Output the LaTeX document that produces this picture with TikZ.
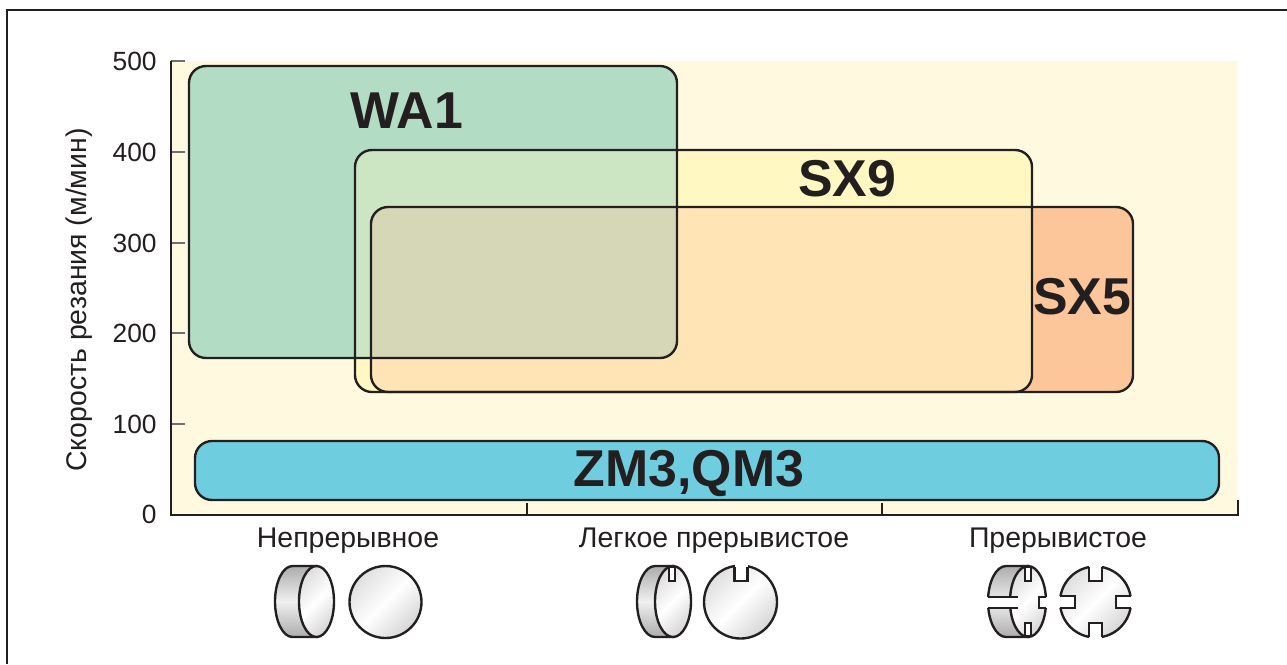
\documentclass[tikz,border=0pt]{standalone}
\usepackage{fontspec}
\setmainfont{Liberation Sans}
\usepackage{tikz}
\usetikzlibrary{calc,backgrounds}
\definecolor{bgcolor}{RGB}{255,250,223}
\definecolor{wacolor}{RGB}{178,220,195}
\definecolor{sxninecolor}{RGB}{255,248,194}
\definecolor{sxfivecolor}{RGB}{252,198,154}
\definecolor{wasxcolor}{RGB}{204,229,195}
\definecolor{allcolor}{RGB}{213,215,183}
\definecolor{sxsxcolor}{RGB}{255,229,182}
\definecolor{zmcolor}{RGB}{111,205,224}
\definecolor{linecolor}{RGB}{35,31,32}
\definecolor{tickcolor}{RGB}{110,110,112}
\newcommand{\linew}{1.35pt}
\newcommand{\boxradius}{0.34cm}
\newcommand{\tickfont}{\fontsize{15}{18}\selectfont}
\newcommand{\catfont}{\fontsize{16.2}{19}\selectfont}
\newcommand{\boxfont}{\fontsize{29.5}{34}\selectfont\bfseries}

\begin{document}
\begin{tikzpicture}[x=0.02cm,y=-0.02cm,
  tick/.style={draw=tickcolor,line width=\linew},
  ticklabel/.style={anchor=east,inner sep=0pt,font=\tickfont,text=linecolor},
  catlabel/.style={inner sep=0pt,font=\catfont,text=linecolor},
  boxlabel/.style={inner sep=0pt,font=\boxfont,text=linecolor},
  outline/.style={draw=linecolor,line width=\linew,rounded corners=\boxradius},
  side/.style={draw=linecolor,line width=\linew,top color=gray!65,bottom color=gray!65,middle color=gray!12},
  face/.style={left color=gray!25,right color=gray!32,middle color=white,shading angle=45}]
\useasboundingbox (0,0) rectangle (1287,664);
%frame
\draw[linecolor,line width=\linew] (7,664) -- (7,10) -- (1287,10);
\begin{scope}[on background layer]
\fill[bgcolor] (171,61) rectangle (1238,515);
\end{scope}
%SX5 and SX9
\fill[sxfivecolor,rounded corners=\boxradius] (371,207) rectangle (1133,392);
\fill[sxninecolor,rounded corners=\boxradius] (355,150) rectangle (1032,392);
\begin{scope}
\clip[rounded corners=\boxradius] (371,207) rectangle (1133,392);
\fill[sxsxcolor,rounded corners=\boxradius] (355,150) rectangle (1032,392);
\end{scope}
%WA1
\fill[wacolor,rounded corners=\boxradius] (189,66) rectangle (677,358);
\begin{scope}
\clip[rounded corners=\boxradius] (189,66) rectangle (677,358);
\fill[wasxcolor,rounded corners=\boxradius] (355,150) rectangle (1032,392);
\fill[allcolor,rounded corners=\boxradius] (371,207) rectangle (1133,392);
\end{scope}
\draw[outline] (371,207) rectangle (1133,392);
\draw[outline] (355,150) rectangle (1032,392);
\draw[outline] (189,66) rectangle (677,358);
%ZM3
\draw[outline,fill=zmcolor] (195,441) rectangle (1219,500);
\node[boxlabel] (wa) at (407,111) {WA1};
\node[boxlabel] (sxnine) at (847,179) {SX9};
\node[boxlabel] (sxfive) at (1082,297) {SX5};
\node[boxlabel] (zm) at (689,473) {ZM3,QM3};
%axes
\draw[tick] (171,61) -- (185,61);
\draw[tick] (171,152) -- (185,152);
\draw[tick] (171,243) -- (185,243);
\draw[tick] (171,333) -- (185,333);
\draw[tick] (171,424) -- (185,424);
\draw[linecolor,line width=\linew] (171,61) -- (171,515) -- (1238,515) -- (1238,500);
\draw[linecolor,line width=0.6pt] (527,515) -- (527,503);
\draw[linecolor,line width=0.6pt] (882,515) -- (882,503);
\node[ticklabel] (t500) at (157,61) {500};
\node[ticklabel] (t400) at (157,152) {400};
\node[ticklabel] (t300) at (157,243) {300};
\node[ticklabel] (t200) at (157,333) {200};
\node[ticklabel] (t100) at (157,424) {100};
\node[ticklabel] (t0) at (157,514) {0};
\node[catlabel,rotate=90] (ylab) at (79,300) {Скорость резания (м/мин)};
\node[catlabel] (cont) at (348,541) {Непрерывное};
\node[catlabel] (light) at (714,541) {Легкое прерывистое};
\node[catlabel] (inter) at (1058,541) {Прерывистое};
%continuous
\draw[side] (316.5,566) -- (292.5,566) arc[start angle=270,end angle=90,x radius=17.5,y radius=35.5] -- (316.5,637) -- cycle;
\draw[linecolor,line width=\linew,face] (316.5,601.5) ellipse (17.5 and 35.5);
\draw[linecolor,line width=\linew,face] (385.5,602) circle (36);
%light interrupted
\draw[side] (673,566) -- (655,566) arc[start angle=270,end angle=90,x radius=18,y radius=35.5] -- (673,637) -- cycle;
\draw[linecolor,line width=\linew,face] (673,601.5) ellipse (18 and 35.5);
\draw[linecolor,line width=\linew,fill=white] (669,567) rectangle (675,581);
\draw[linecolor,line width=\linew,face] (740.5,602) circle (36.5);
\fill[white] (734.5,564) rectangle (747.5,581);
\draw[linecolor,line width=\linew] (734.5,567) -- (734.5,581) -- (747.5,581) -- (747.5,567);
%interrupted
\draw[side] (1028,566) -- (1006,566) arc[start angle=270,end angle=90,x radius=18,y radius=35.5] -- (1028,637) -- cycle;
\draw[linecolor,line width=\linew,face] (1028,601.5) ellipse (18 and 35.5);
\fill[white] (986,597) rectangle (1020,608);
\draw[linecolor,line width=\linew] (988,597) -- (1018,597) (988,608) -- (1018,608);
\draw[linecolor,line width=\linew,fill=white] (1025,567) rectangle (1031,581);
\draw[linecolor,line width=\linew,fill=white] (1025,623) rectangle (1031,636);
\fill[white] (1039,597) rectangle (1048,608);
\draw[linecolor,line width=\linew] (1045.5,597) -- (1039,597) -- (1039,608) -- (1045.5,608);
\draw[linecolor,line width=\linew,face] (1095.5,602) circle (35.5);
\fill[white] (1089,564) rectangle (1102,581);
\fill[white] (1089,623) rectangle (1102,640);
\fill[white] (1057,596) rectangle (1075,608);
\fill[white] (1116,596) rectangle (1134,608);
\draw[linecolor,line width=\linew] (1089,567) -- (1089,581) -- (1102,581) -- (1102,567);
\draw[linecolor,line width=\linew] (1089,637) -- (1089,623) -- (1102,623) -- (1102,637);
\draw[linecolor,line width=\linew] (1060,596) -- (1075,596) -- (1075,608) -- (1060,608);
\draw[linecolor,line width=\linew] (1131,596) -- (1116,596) -- (1116,608) -- (1131,608);
\end{tikzpicture}
\end{document}
